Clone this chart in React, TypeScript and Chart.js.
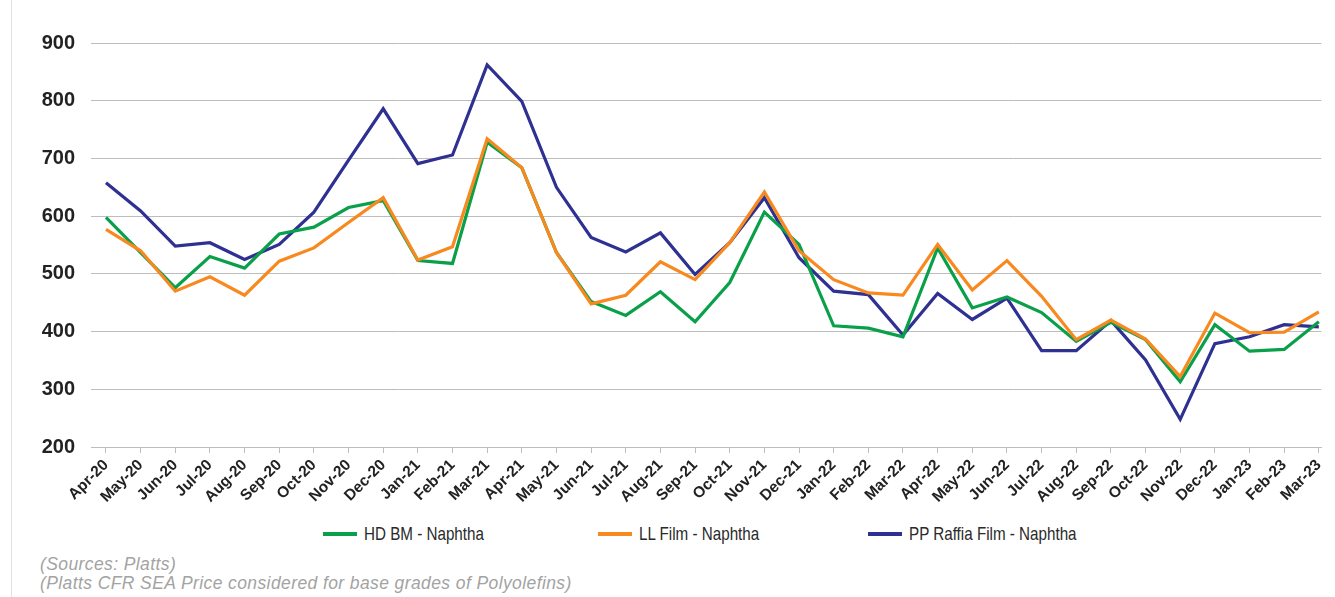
import React, { useEffect, useRef } from "react";
import { Chart, registerables } from "chart.js";

Chart.register(...registerables);

const months = [
  "Apr-20", "May-20", "Jun-20", "Jul-20", "Aug-20", "Sep-20", "Oct-20", "Nov-20", "Dec-20",
  "Jan-21", "Feb-21", "Mar-21", "Apr-21", "May-21", "Jun-21", "Jul-21", "Aug-21", "Sep-21",
  "Oct-21", "Nov-21", "Dec-21", "Jan-22", "Feb-22", "Mar-22", "Apr-22", "May-22", "Jun-22",
  "Jul-22", "Aug-22", "Sep-22", "Oct-22", "Nov-22", "Dec-22", "Jan-23", "Feb-23", "Mar-23",
];

const hdBm = [
  598, 537, 476, 530, 510, 569, 581, 615, 627, 523,
  518, 728, 684, 537, 452, 428, 469, 417, 485, 607,
  551, 410, 406, 391, 545, 441, 460, 433, 383, 416,
  386, 313, 412, 366, 369, 417,
];

const llFilm = [
  577, 540, 470, 495, 463, 522, 545, 589, 632, 524,
  547, 734, 684, 537, 448, 463, 521, 490, 554, 642,
  540, 490, 467, 463, 551, 472, 523, 461, 386, 420,
  387, 322, 432, 398, 399, 434,
];

const ppRaffia = [
  658, 609, 548, 554, 525, 551, 607, 697, 786, 691,
  706, 862, 799, 650, 563, 538, 571, 499, 554, 632,
  528, 470, 464, 394, 466, 421, 458, 367, 367, 419,
  351, 248, 379, 391, 412, 408,
];

const seriesNames = ["HD BM - Naphtha", "LL Film - Naphtha", "PP Raffia Film - Naphtha"];
const seriesColors = ["#0aa04a", "#f7891f", "#2e3192"];
const yMin = 200;
const yMax = 900;
const yStep = 100;

const sourceLines = [
  "(Sources: Platts)",
  "(Platts CFR SEA Price considered for base grades of Polyolefins)",
];

const sans = "'Liberation Sans', Arial, Helvetica, sans-serif";

export default function App() {
  const canvasRef = useRef<HTMLCanvasElement | null>(null);

  useEffect(() => {
    if (!canvasRef.current) return;
    const toPts = (arr: number[]) => arr.map((y, i) => ({ x: i, y }));
    const chart = new Chart(canvasRef.current, {
      type: "line",
      data: {
        datasets: [
          { label: seriesNames[0], data: toPts(hdBm), borderColor: seriesColors[0], backgroundColor: seriesColors[0], order: 2 },
          { label: seriesNames[1], data: toPts(llFilm), borderColor: seriesColors[1], backgroundColor: seriesColors[1], order: 1 },
          { label: seriesNames[2], data: toPts(ppRaffia), borderColor: seriesColors[2], backgroundColor: seriesColors[2], order: 3 },
        ],
      },
      options: {
        animation: false,
        responsive: true,
        maintainAspectRatio: false,
        layout: { padding: { left: 0, right: 10, top: 43, bottom: 0 } },
        elements: {
          line: { borderWidth: 3.2, tension: 0, borderJoinStyle: "miter" },
          point: { radius: 0, hoverRadius: 0 },
        },
        plugins: {
          legend: { display: false },
          tooltip: { enabled: false },
        },
        scales: {
          x: {
            type: "linear",
            min: -0.432,
            max: 35.07,
            afterBuildTicks: (s: any) => {
              s.ticks = months.map((_, i) => ({ value: i }));
            },
            afterFit: (s: any) => {
              s.height = 73;
            },
            ticks: {
              autoSkip: false,
              maxRotation: 45,
              minRotation: 45,
              padding: 3,
              color: "#222",
              font: { family: sans, size: 15.5, weight: "bold" },
              callback: (v: any) => months[Math.round(Number(v))] ?? "",
            },
            grid: { drawOnChartArea: false, drawTicks: true, tickLength: 6, color: "#bdbdbd" },
            border: { display: true, color: "#bdbdbd", width: 1 },
          },
          y: {
            min: yMin,
            max: yMax,
            afterFit: (s: any) => {
              s.width = 91;
            },
            ticks: {
              stepSize: yStep,
              padding: 16,
              color: "#222",
              font: { family: sans, size: 20, weight: "bold" },
            },
            grid: { drawTicks: false, color: "#bdbdbd", lineWidth: 1 },
            border: { display: false },
          },
        },
      },
    } as any);
    return () => chart.destroy();
  }, []);

  const legendX = [323, 598, 868];

  return (
    <div style={{ position: "absolute", left: 0, top: 0, width: 1335, height: 597, background: "#fff", overflow: "hidden" }}>
      <div style={{ position: "absolute", left: 11, top: 0, width: 1, height: 597, background: "#e2e2e2" }} />
      <div style={{ position: "absolute", left: 0, top: 0, width: 1335, height: 520 }}>
        <canvas ref={canvasRef} />
      </div>
      {seriesNames.map((name, i) => (
        <div
          key={name}
          style={{
            position: "absolute",
            left: legendX[i],
            top: 522,
            height: 24,
            display: "flex",
            alignItems: "center",
            fontFamily: sans,
            fontSize: 19,
            color: "#2a2a2a",
            whiteSpace: "nowrap",
          }}
        >
          <span style={{ display: "inline-block", width: 34, height: 4, background: seriesColors[i], marginRight: 7 }} />
          <span style={{ display: "inline-block", transform: "scaleX(0.8)", transformOrigin: "left center" }}>{name}</span>
        </div>
      ))}
      <div
        style={{
          position: "absolute",
          left: 40,
          top: 555,
          fontFamily: sans,
          fontStyle: "italic",
          fontSize: 17.5,
          lineHeight: "19px",
          letterSpacing: 0.4,
          color: "#a3a3a3",
          whiteSpace: "nowrap",
        }}
      >
        {sourceLines.map((t) => (
          <div key={t}>{t}</div>
        ))}
      </div>
    </div>
  );
}
